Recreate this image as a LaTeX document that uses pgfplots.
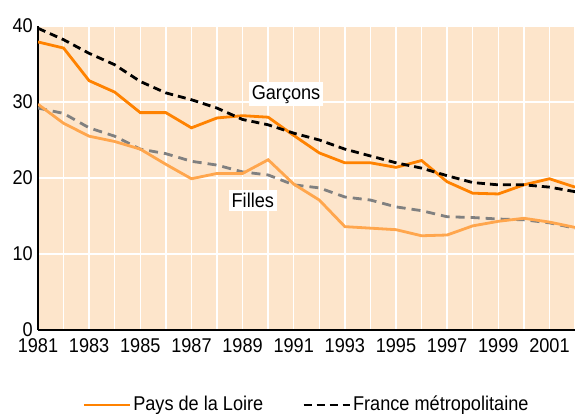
\documentclass[border=0pt]{standalone}
\usepackage{fontspec}
\setmainfont{Liberation Sans}[FakeStretch=0.91]
\usepackage{pgfplots}
\pgfplotsset{compat=1.18}
\definecolor{bg}{HTML}{FDE5CB}
\definecolor{dorange}{HTML}{FF8200}
\definecolor{lorange}{HTML}{FFA64D}
\definecolor{dgrey}{HTML}{808080}
\begin{document}
\fontsize{20}{23}\selectfont
\begin{tikzpicture}
\begin{axis}[
  at={(0,0)}, anchor=south west, scale only axis,
  width=537bp, height=304bp,
  xmin=1981, xmax=2002, ymin=0, ymax=40,
  axis background/.style={fill=bg},
  separate axis lines,
  axis x line=bottom, axis y line=left,
  axis line style={-, black, line width=1.2bp},
  grid=both,
  major grid style={white, line width=1.5bp},
  minor grid style={white, line width=1.5bp},
  xtick={1981,1983,...,2001},
  minor xtick={1982,1984,...,2002},
  ytick={0,10,20,30,40},
  major tick length=0pt, minor tick length=0pt,
  /pgf/number format/assume math mode=true,
  /pgf/number format/1000 sep={},
  tick label style={font=\fontsize{20}{23}\selectfont},
  xticklabel style={anchor=north, inner sep=0pt, yshift=-8bp},
  yticklabel style={anchor=east, inner sep=0pt, xshift=-5bp, yshift=0bp},
  legend style={at={(0.5,0)}, anchor=center, yshift=-75bp, draw=none, fill=none,
    font=\fontsize{20}{23}\selectfont, legend columns=2,
    /tikz/every even column/.append style={column sep=37bp}},
  legend image code/.code={\draw[#1] (-7bp,0bp) -- (39bp,0bp);},
]
% Filles France
\addplot[dgrey, line width=2.8bp, dash pattern=on 9bp off 6bp, forget plot] coordinates {
(1981,29.2)(1982,28.5)(1983,26.6)(1984,25.5)(1985,23.8)(1986,23.2)(1987,22.2)(1988,21.7)
(1989,20.8)(1990,20.4)(1991,19.1)(1992,18.7)(1993,17.5)(1994,17.1)(1995,16.2)(1996,15.7)
(1997,14.9)(1998,14.8)(1999,14.6)(2000,14.5)(2001,14.1)(2002,13.4)};
% Filles Pays de la Loire
\addplot[lorange, line width=2.8bp, forget plot] coordinates {
(1981,29.7)(1982,27.2)(1983,25.5)(1984,24.8)(1985,23.8)(1986,21.8)(1987,19.9)(1988,20.6)
(1989,20.6)(1990,22.4)(1991,19.2)(1992,17.1)(1993,13.6)(1994,13.4)(1995,13.2)(1996,12.4)
(1997,12.5)(1998,13.7)(1999,14.3)(2000,14.7)(2001,14.2)(2002,13.5)};
% Garcons Pays de la Loire
\addplot[dorange, line width=2.8bp] coordinates {
(1981,37.9)(1982,37.1)(1983,32.8)(1984,31.3)(1985,28.6)(1986,28.6)(1987,26.6)(1988,27.9)
(1989,28.2)(1990,28.0)(1991,25.6)(1992,23.3)(1993,22.0)(1994,22.0)(1995,21.4)(1996,22.3)
(1997,19.5)(1998,18.0)(1999,17.9)(2000,19.1)(2001,19.9)(2002,18.8)};
\addlegendentry{Pays de la Loire}
% Garcons France
\addplot[black, line width=2.8bp, dash pattern=on 8bp off 5bp] coordinates {
(1981,39.7)(1982,38.2)(1983,36.4)(1984,34.9)(1985,32.7)(1986,31.2)(1987,30.3)(1988,29.2)
(1989,27.7)(1990,27.0)(1991,25.9)(1992,25.0)(1993,23.8)(1994,22.9)(1995,22.0)(1996,21.3)
(1997,20.3)(1998,19.4)(1999,19.1)(2000,19.1)(2001,18.8)(2002,18.2)};
\addlegendentry{France métropolitaine}
\node[fill=white, inner sep=3bp] at (axis cs:1990.7,31) {Garçons};
\node[fill=white, inner sep=3bp] at (axis cs:1989.4,17) {Filles};
\end{axis}
\pgfresetboundingbox
\path (-38bp,-84bp) rectangle (537bp,330bp);
\end{tikzpicture}
\end{document}
